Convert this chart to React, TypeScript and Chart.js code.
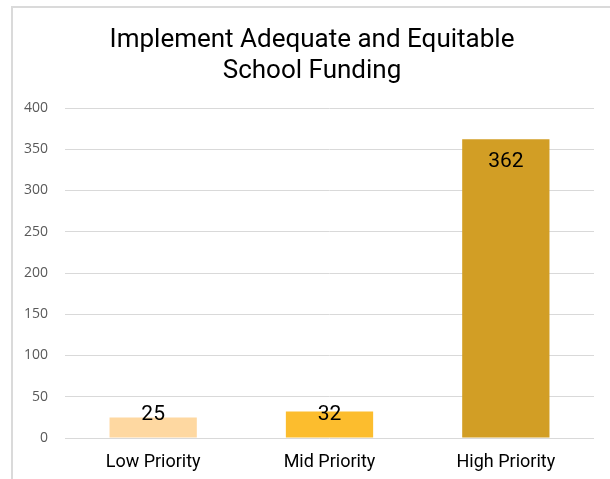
import React, { useEffect, useRef } from "react";
import { Chart, registerables } from "chart.js";

Chart.register(...registerables);

const categories = ["Low Priority", "Mid Priority", "High Priority"];
const values = [25, 32, 362];
const barColors = ["#FED8A1", "#FCBD2E", "#D29E25"];
const titleLines = ["Implement Adequate and Equitable", "School Funding"];
const yMax = 400;
const yStep = 50;

const titlePlugin = {
  id: "customTitle",
  afterDraw(chart: any) {
    const ctx = chart.ctx;
    ctx.save();
    ctx.fillStyle = "#000000";
    ctx.font = "26px Roboto";
    ctx.textAlign = "center";
    ctx.textBaseline = "alphabetic";
    ctx.fillText(titleLines[0], 312, 47);
    ctx.fillText(titleLines[1], 312, 78);
    ctx.restore();
  },
};

const labelPlugin = {
  id: "barLabels",
  afterDatasetsDraw(chart: any) {
    const ctx = chart.ctx;
    const meta = chart.getDatasetMeta(0);
    ctx.save();
    ctx.fillStyle = "#000000";
    ctx.font = "21px Roboto";
    ctx.textAlign = "center";
    ctx.textBaseline = "middle";
    meta.data.forEach((el: any, i: number) => {
      const y = Math.min(el.y + 22, el.base - 23);
      ctx.fillText(String(values[i]), el.x, y);
    });
    ctx.restore();
  },
};

export default function App() {
  const ref = useRef<HTMLCanvasElement>(null);
  useEffect(() => {
    const chart = new Chart(ref.current!, {
      type: "bar",
      data: {
        labels: categories,
        datasets: [
          {
            data: values,
            backgroundColor: barColors,
            categoryPercentage: 1,
            barPercentage: 0.495,
          },
        ],
      },
      options: {
        animation: false,
        responsive: false,
        layout: { padding: { top: 108, right: 16, left: 0, bottom: 0 } },
        plugins: {
          legend: { display: false },
          title: { display: false },
          tooltip: { enabled: false },
        },
        scales: {
          x: {
            grid: { display: false, drawTicks: false },
            border: { display: false },
            ticks: {
              color: "#000000",
              font: { family: "Roboto", size: 18 },
              padding: 14,
            },
            afterFit(scale: any) {
              scale.height = 41;
            },
          },
          y: {
            min: 0,
            max: yMax,
            grid: { color: "#D9D9D9", lineWidth: 1, drawTicks: false },
            border: { display: false },
            ticks: {
              stepSize: yStep,
              color: "#595959",
              font: { family: "Open Sans", size: 14 },
              padding: 17,
            },
            afterFit(scale: any) {
              scale.width = 65;
            },
          },
        },
      },
      plugins: [titlePlugin, labelPlugin],
    });
    return () => chart.destroy();
  }, []);
  return (
    <div
      style={{
        position: "fixed",
        left: 0,
        top: 0,
        width: 610,
        height: 479,
        background: "#ffffff",
        overflow: "hidden",
      }}
    >
      <div
        style={{
          position: "absolute",
          left: 11,
          top: 6,
          width: 620,
          height: 500,
          borderLeft: "2px solid #DADADA",
          borderTop: "2px solid #DADADA",
        }}
      />
      <canvas
        ref={ref}
        width={610}
        height={479}
        style={{ position: "absolute", left: 0, top: 0, width: 610, height: 479 }}
      />
    </div>
  );
}
